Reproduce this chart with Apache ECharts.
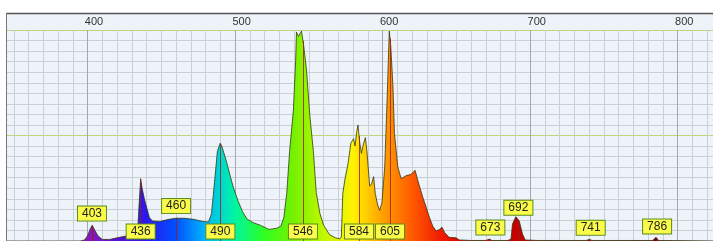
<!DOCTYPE html>
<html>
<head>
<meta charset="utf-8">
<script src="https://cdn.jsdelivr.net/npm/echarts@6/dist/echarts.min.js"></script>
<style>
html, body { margin: 0; padding: 0; background: #fff; }
#chart1 { width: 713px; height: 241px; }
</style>
</head>
<body>
<div id="chart1"></div>
<script>
// spectrum: wavelength (nm) and relative intensity
var wavelengths = [345, 380, 395, 398, 400, 402, 403.2, 405, 407, 410, 415, 420, 427, 432, 434, 435, 436, 437, 438.5, 440,
    442, 444, 449, 455, 460, 466, 472, 478, 482, 484, 486, 488, 489.9, 491, 494, 497, 499, 502, 505, 508,
    512, 517, 523, 528, 531, 533, 535, 537, 539.5, 541, 541.6, 543, 545, 546.5, 548.4, 550.7, 553, 555, 557.5, 560,
    564, 568, 571, 572, 573, 574.5, 576.5, 578.5, 580.3, 581.3, 582.5, 583.3, 584.3, 585.6, 587, 588.3, 589.3, 590.2, 591.2, 592.5,
    593.9, 595, 596.5, 598, 599.5, 601.4, 603, 604.5, 605.5, 607, 608, 610.3, 612.6, 616, 619, 620.5, 622, 623.9, 627.3, 629.5,
    631.8, 634, 636.3, 638.5, 640.3, 642, 645, 649.8, 652, 660, 670, 672.3, 674, 685, 687, 688, 690.3, 692.6, 694.8, 696.6,
    705, 720, 738, 740, 742, 783, 785.3, 787, 830];
var intensity = [0, 0, 0, 0.1, 0.5, 1.2, 1.5, 1.0, 0.5, 0.15, 0.15, 0.3, 0.5, 0.75, 1.1, 3.6, 5.9, 5.0, 4.0, 3.2,
    2.2, 1.9, 1.85, 2.05, 2.16, 2.15, 2.05, 1.85, 1.8, 2.6, 5.5, 8.5, 9.27, 9.0, 7.6, 6.0, 5.0, 3.8, 2.8, 2.1,
    1.75, 1.5, 1.1, 1.2, 1.4, 2.2, 4.5, 8.6, 12.4, 17, 19.8, 19.4, 19.9, 18.5, 16.2, 11.8, 8.6, 4.6, 2.6, 1.5,
    0.6, 0.3, 0.2, 0.4, 4.5, 5.9, 7.3, 9.3, 9.7, 9.0, 10.4, 11.0, 9.5, 8.3, 9.2, 9.8, 8.6, 7.0, 5.2, 5.4,
    6.1, 4.5, 3.5, 2.9, 3.6, 7.0, 13.3, 19.9, 18.5, 14.6, 10.2, 7.0, 5.9, 6.2, 6.3, 6.5, 6.7, 5.7, 4.1, 3.2,
    2.2, 1.4, 0.95, 1.1, 1.3, 0.8, 0.35, 0.3, 0.1, 0.05, 0.05, 0.18, 0.05, 0.05, 0.2, 1.6, 2.3, 1.9, 0.65, 0.1,
    0.05, 0.05, 0.05, 0.15, 0.05, 0.05, 0.35, 0.05, 0];
var peakLabels = [403, 436, 460, 490, 546, 584, 605, 673, 692, 741, 786];
var tickLabels = [400, 500, 600, 700, 800];

// colours of the light, 380 to 780 nm in 20 nm steps
var rainbow = ['#7000a0', '#8a1ab8', '#5a10d8', '#2a18f0', '#0050ff', '#00b8ff', '#00f5a0', '#30ff20', '#78f000', '#c0f800',
    '#fff200', '#ffa000', '#ff5a00', '#f01800', '#e00000', '#cc0000', '#c00000', '#b00000', '#a00000', '#900000', '#800000'];

var chartDom = document.getElementById('chart1');
var myChart = echarts.init(chartDom);
var option;

var spectrum = wavelengths.map(function (w, i) { return [w, intensity[i]]; });

function valueAt(nm) {
    for (var i = 1; i < wavelengths.length; i++) {
        if (wavelengths[i] >= nm) {
            var t = (nm - wavelengths[i - 1]) / (wavelengths[i] - wavelengths[i - 1]);
            return intensity[i - 1] + t * (intensity[i] - intensity[i - 1]);
        }
    }
    return 0;
}

// high peaks get their tag down at the bottom, low ones sit just above the peak
var tags = peakLabels.map(function (w) {
    var v = valueAt(w);
    return [w, v > 3 ? 0.9 : v + 1.15];
});
var markers = peakLabels.map(function (w) {
    return [{coord: [w, 0]}, {coord: [w, valueAt(w)]}];
});

option = {
    animation: false,
    backgroundColor: '#eef3fa',
    grid: {left: -60, top: 30, width: 782, height: 211, outerBoundsMode: 'none', containLabel: false},
    xAxis: {
        type: 'value',
        position: 'top',
        min: 300,
        max: 830,
        interval: 100,
        axisLine: {show: false},
        axisTick: {show: false},
        axisLabel: {
            color: '#333',
            fontFamily: 'Liberation Sans',
            fontSize: 11,
            margin: 3,
            padding: [0, 0, 0, 13],
            formatter: function (v) { return tickLabels.indexOf(v) >= 0 ? String(v) : ''; }
        },
        splitLine: {show: true, lineStyle: {color: '#a4a7ac', width: 1}},
        minorTick: {show: false, splitNumber: 10},
        minorSplitLine: {show: true, lineStyle: {color: '#cbd0d7', width: 1}}
    },
    yAxis: {
        type: 'value',
        min: 0,
        max: 20,
        interval: 10,
        axisLine: {show: false},
        axisTick: {show: false},
        axisLabel: {show: false},
        splitLine: {show: true, lineStyle: {color: '#bcd67a', width: 1}},
        minorTick: {show: false, splitNumber: 10},
        minorSplitLine: {show: true, lineStyle: {color: '#cbd0d7', width: 1}}
    },
    visualMap: {
        type: 'continuous',
        show: false,
        seriesIndex: 0,
        dimension: 0,
        min: 380,
        max: 780,
        inRange: {color: rainbow}
    },
    series: [
        {
            type: 'line',
            z: 2,
            data: spectrum,
            showSymbol: false,
            lineStyle: {color: 'rgba(40,50,10,0.75)', width: 1},
            areaStyle: {opacity: 1},
            markLine: {
                silent: true,
                symbol: ['none', 'none'],
                label: {show: false},
                lineStyle: {color: 'rgba(150,30,30,0.8)', width: 1, type: 'solid'},
                data: markers
            }
        },
        {
            type: 'scatter',
            z: 10,
            data: tags,
            symbolSize: 1,
            itemStyle: {color: 'transparent', opacity: 1},
            labelLayout: {hideOverlap: false},
            label: {
                show: true,
                opacity: 1,
                position: 'inside',
                formatter: function (p) { return p.value[0]; },
                color: '#222',
                fontFamily: 'Liberation Sans',
                fontSize: 12,
                lineHeight: 13,
                backgroundColor: '#fbfb4a',
                borderColor: '#5b8c1c',
                borderWidth: 1,
                padding: [1, 4, 0, 4]
            }
        }
    ],
    graphic: [
        {type: 'rect', z: 100, shape: {x: 0, y: 0, width: 713, height: 13}, style: {fill: '#fff'}},
        {type: 'rect', z: 100, shape: {x: 0, y: 0, width: 6, height: 241}, style: {fill: '#fff'}},
        {type: 'line', z: 101, shape: {x1: 6, y1: 13.5, x2: 713, y2: 13.5}, style: {stroke: '#555', lineWidth: 1.5}},
        {type: 'line', z: 101, shape: {x1: 6.5, y1: 13, x2: 6.5, y2: 241}, style: {stroke: '#777', lineWidth: 1}}
    ]
};

option && myChart.setOption(option);
</script>
</body>
</html>
